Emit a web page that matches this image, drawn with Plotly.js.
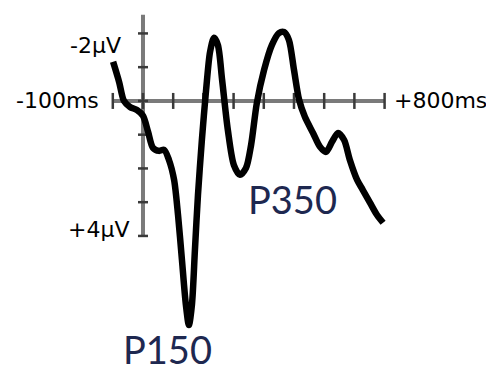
<!DOCTYPE html>
<html>
<head>
<meta charset="utf-8">
<script src="https://cdn.plot.ly/plotly-3.0.1.min.js"></script>
<style>html,body{margin:0;padding:0;background:#fff;}#chart{width:486px;height:374px;}</style>
</head>
<body>
<div id="chart"></div>
<script>
// Time (ms) and amplitude (µV, negative plotted upward)
const timeMs = [-99,-79,-63,-43,-20,0,17,33,53,70,86,103,116,129,142,152,162,172,182,195,209,222,235,248,262,281,301,321,341,358,377,401,427,450,467,483,500,517,536,563,586,606,626,646,666,685,709,728,752,775,795];
const ampUV = [-1.16,-0.56,0,0.18,0.27,0.44,0.92,1.39,1.48,1.45,1.75,2.34,3.38,4.71,6.04,6.64,6.04,4.41,2.79,1.16,-0.33,-1.45,-1.87,-1.66,-0.62,0.86,1.9,2.19,1.99,1.30,0.06,-0.92,-1.66,-2.01,-2.04,-1.81,-0.92,-0.03,0.47,0.95,1.36,1.51,1.21,0.95,1.16,1.75,2.34,2.64,3.02,3.38,3.61];

const xTicks = [-100,0,100,200,300,400,500,600,700,800];
const yTicks = [-2,-1,0,1,2,3,4];
const xAxisEnds = [-100, 800];
const yAxisEnds = [-2.55, 4];

const xTickLabels = ['-100ms', '+800ms'];
const yTickLabels = ['-2µV', '+4µV'];
const peakLabels = ['P150', 'P350'];

const W = 486, H = 374;
const xRange = [-473.5, 1135.8];
const yRange = [8.09, -2.99];
const pxPerMs = W / (xRange[1] - xRange[0]);
const pxPerUV = H / (yRange[0] - yRange[1]);

const axisColor = '#7a7a7a';
const tickColor = '#3a3a3a';
const shapes = [];
shapes.push({type:'line', layer:'below', xref:'x', yref:'y', x0:xAxisEnds[0], x1:xAxisEnds[1], y0:0, y1:0, line:{color:axisColor, width:4}});
shapes.push({type:'line', layer:'below', xref:'x', yref:'y', x0:0, x1:0, y0:yAxisEnds[0], y1:yAxisEnds[1], line:{color:axisColor, width:4}});
const xTickHalf = 8 / pxPerUV;
xTicks.forEach(t => shapes.push({type:'line', layer:'below', xref:'x', yref:'y', x0:t, x1:t, y0:-xTickHalf, y1:xTickHalf, line:{color:tickColor, width:2.5}}));
const yTickHalf = 5 / pxPerMs;
yTicks.forEach(v => shapes.push({type:'line', layer:'below', xref:'x', yref:'y', x0:-yTickHalf, x1:yTickHalf, y0:v, y1:v, line:{color:tickColor, width:2.5}}));

const labFont = {family:'DejaVu Sans, sans-serif', size:22, color:'#000'};
const peakFont = {family:'Lato, Open Sans, sans-serif', size:38, color:'#1e2850'};
const annotations = [
  {xref:'x', yref:'y', x:xAxisEnds[0], y:0, text:xTickLabels[0], showarrow:false, xanchor:'right', yanchor:'middle', xshift:-12, yshift:0, font:labFont},
  {xref:'x', yref:'y', x:xAxisEnds[1], y:0, text:xTickLabels[1], showarrow:false, xanchor:'left', yanchor:'middle', xshift:7, yshift:0, font:labFont},
  {xref:'x', yref:'y', x:0, y:yTicks[0], text:yTickLabels[0], showarrow:false, xanchor:'right', yanchor:'middle', xshift:-20, yshift:-12, font:labFont},
  {xref:'x', yref:'y', x:0, y:yTicks[yTicks.length-1], text:yTickLabels[1], showarrow:false, xanchor:'right', yanchor:'middle', xshift:-12, yshift:6, font:labFont},
  {xref:'x', yref:'paper', x:150, y:1 - 373/H, text:peakLabels[0], showarrow:false, xanchor:'center', yanchor:'bottom', borderpad:0, xshift:-21, font:peakFont},
  {xref:'x', yref:'y', x:350, y:2.19, text:peakLabels[1], showarrow:false, xanchor:'center', yanchor:'middle', xshift:44, yshift:-24, font:peakFont}
];

Plotly.newPlot('chart', [{
  x: timeMs, y: ampUV, type:'scatter', mode:'lines',
  line:{color:'#000', width:6.5, shape:'spline', smoothing:0.8},
  hoverinfo:'skip'
}], {
  width:W, height:H, margin:{l:0,r:0,t:0,b:0},
  paper_bgcolor:'#fff', plot_bgcolor:'#fff', showlegend:false,
  xaxis:{range:xRange, visible:false, fixedrange:true},
  yaxis:{range:yRange, visible:false, fixedrange:true},
  shapes: shapes, annotations: annotations
}, {staticPlot:true});
</script>
</body>
</html>
